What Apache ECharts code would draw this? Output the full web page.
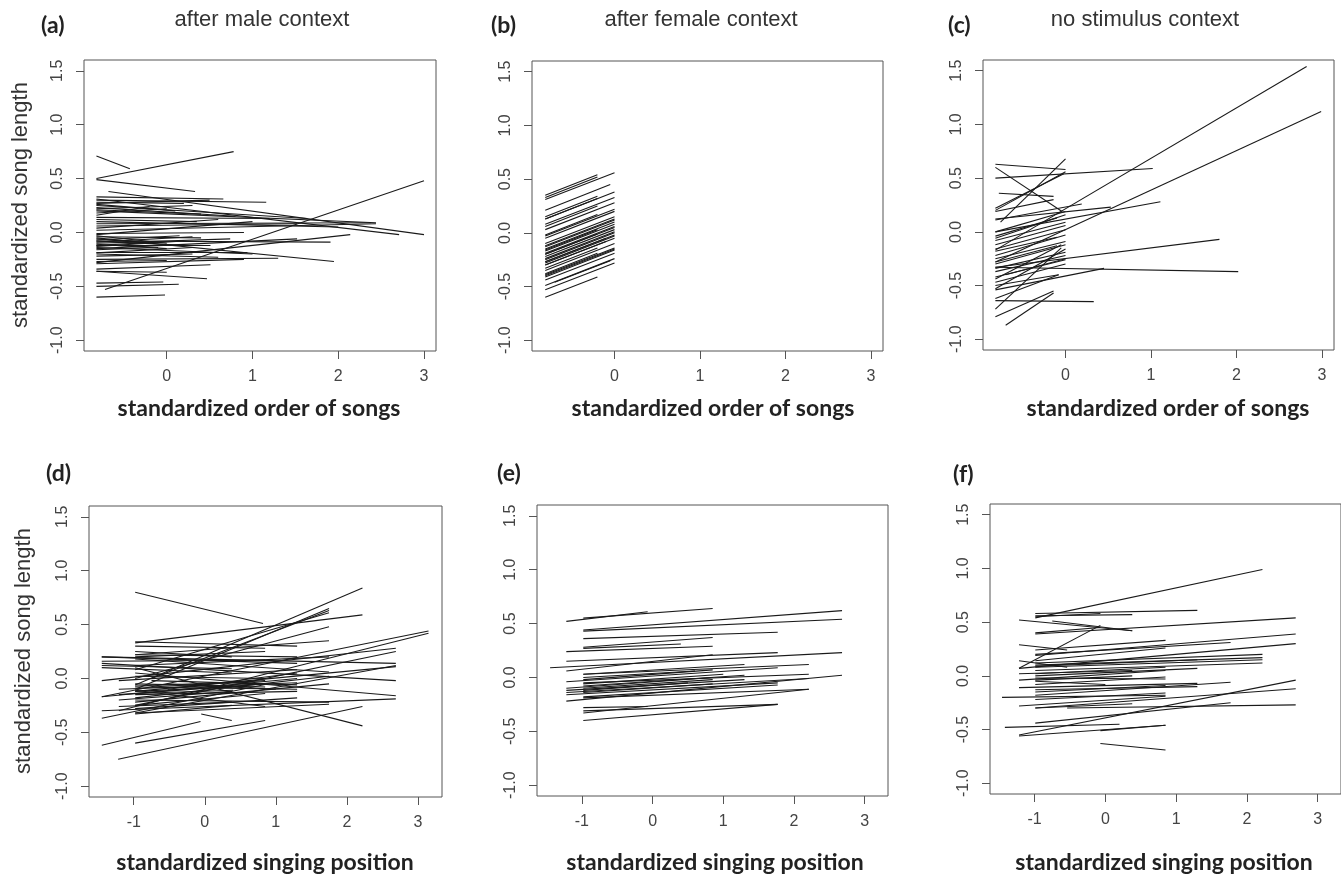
<!DOCTYPE html>
<html>
<head>
<meta charset="utf-8">
<title>song length</title>
<script src="https://cdn.jsdelivr.net/npm/echarts@6.0.0/dist/echarts.min.js"></script>
<style>
  html, body { margin: 0; padding: 0; background: #fff; }
  #chart { width: 1341px; height: 877px; }
</style>
</head>
<body>
<div id="chart"></div>
<script>
// tick values
var yTicks = [-1, -0.5, 0, 0.5, 1, 1.5];
var orderTicks = [0, 1, 2, 3];
var positionTicks = [-1, 0, 1, 2, 3];

var panelTags = ['(a)', '(b)', '(c)', '(d)', '(e)', '(f)'];
var contextNames = ['after male context', 'after female context', 'no stimulus context'];
var xTitles = ['standardized order of songs', 'standardized singing position'];
var yTitle = 'standardized song length';

// each segment: [x1, y1, x2, y2]
var segA = [
  [-0.82, 0.71, -0.43, 0.59], [-0.82, 0.50, 0.78, 0.75], [-0.82, 0.49, 0.33, 0.38],
  [-0.68, 0.38, 3.00, -0.02], [-0.72, -0.53, 3.00, 0.48], [-0.82, 0.33, 0.66, 0.31],
  [-0.82, 0.30, 1.16, 0.28], [-0.82, 0.31, 2.71, -0.02], [-0.82, 0.27, 0.50, 0.30],
  [-0.82, 0.25, 1.64, 0.13], [-0.82, 0.22, 0.30, 0.25], [-0.82, 0.20, 2.44, 0.09],
  [-0.82, 0.18, 0.00, 0.22], [-0.82, 0.16, -0.20, 0.24], [-0.82, 0.26, 0.10, 0.20],
  [-0.82, 0.23, 0.80, 0.15], [-0.82, 0.14, 1.20, 0.13], [-0.82, 0.12, 0.35, 0.10],
  [-0.82, 0.08, 2.38, 0.09], [-0.82, 0.06, 1.52, 0.08], [-0.82, 0.04, 0.60, 0.12],
  [-0.82, 0.02, 2.44, 0.08], [-0.82, 0.10, 2.00, 0.05], [-0.82, -0.01, 0.90, 0.00],
  [-0.82, -0.02, 1.00, 0.10], [-0.82, -0.04, 0.40, -0.05], [-0.82, -0.07, 0.15, -0.03],
  [-0.82, -0.28, 2.14, -0.02], [-0.82, -0.05, 1.95, -0.27], [-0.82, -0.08, 1.91, -0.09],
  [-0.82, -0.10, 0.74, -0.06], [-0.82, -0.12, 0.51, -0.12], [-0.82, -0.09, 0.30, -0.04],
  [-0.82, -0.14, 1.00, -0.20], [-0.82, -0.11, 0.00, -0.15], [-0.82, -0.06, -0.20, -0.10],
  [-0.82, -0.13, 0.20, -0.08], [-0.82, -0.16, -0.10, -0.14], [-0.82, -0.15, 1.52, -0.06],
  [-0.82, -0.18, 0.94, -0.18], [-0.82, -0.20, 0.60, -0.23], [-0.82, -0.22, 0.30, -0.20],
  [-0.82, -0.25, 1.30, -0.24], [-0.82, -0.27, 0.00, -0.26], [-0.82, -0.29, 0.90, -0.25],
  [-0.82, -0.34, 0.51, -0.30], [-0.82, -0.36, 0.00, -0.37], [-0.82, -0.36, 0.47, -0.43],
  [-0.82, -0.47, -0.04, -0.46], [-0.82, -0.50, 0.14, -0.48], [-0.82, -0.60, -0.02, -0.58],
  [-0.82, -0.08, 0.20, -0.12], [-0.82, -0.12, -0.10, -0.09], [-0.82, -0.03, 0.00, -0.10],
  [-0.82, 0.28, 0.20, 0.27], [-0.82, 0.21, 0.40, 0.17], [-0.82, -0.19, 0.30, -0.14]
];

var segB = [
  [-0.81, 0.31, 0, 0.56], [-0.81, 0.13, 0, 0.38], [-0.81, 0.08, 0, 0.33],
  [-0.81, 0.03, 0, 0.28], [-0.81, -0.03, 0, 0.22], [-0.81, -0.05, 0, 0.20],
  [-0.81, -0.10, 0, 0.15], [-0.81, -0.12, 0, 0.13], [-0.81, -0.13, 0, 0.12],
  [-0.81, -0.15, 0, 0.10], [-0.81, -0.17, 0, 0.08], [-0.81, -0.19, 0, 0.06],
  [-0.81, -0.20, 0, 0.05], [-0.81, -0.22, 0, 0.03], [-0.81, -0.24, 0, 0.01],
  [-0.81, -0.25, 0, 0.00], [-0.81, -0.27, 0, -0.02], [-0.81, -0.28, 0, -0.03],
  [-0.81, -0.30, 0, -0.05], [-0.81, -0.35, 0, -0.10], [-0.81, -0.39, 0, -0.14],
  [-0.81, -0.40, 0, -0.15], [-0.81, -0.41, 0, -0.16], [-0.81, -0.44, 0, -0.19],
  [-0.81, -0.49, 0, -0.24], [-0.81, -0.53, 0, -0.28],
  [-0.81, 0.33, -0.20, 0.52], [-0.81, 0.35, -0.20, 0.54], [-0.81, 0.21, -0.05, 0.45],
  [-0.81, 0.15, -0.20, 0.34], [-0.81, 0.13, -0.20, 0.32], [-0.81, 0.06, -0.20, 0.25],
  [-0.81, -0.02, -0.20, 0.17], [-0.81, -0.16, -0.20, 0.03], [-0.81, -0.20, -0.20, -0.01],
  [-0.81, -0.33, -0.20, -0.14], [-0.81, -0.38, -0.20, -0.19], [-0.81, -0.60, -0.20, -0.41],
  [-0.70, -0.46, -0.05, -0.26], [-0.81, -0.27, -0.10, -0.05], [-0.81, -0.30, -0.10, -0.08]
];

var segC = [
  [-0.82, -0.17, 2.82, 1.54], [-0.82, -0.28, 2.99, 1.12], [-0.82, 0.63, 0.00, 0.58],
  [-0.82, 0.60, -0.04, 0.19], [-0.82, 0.50, 1.02, 0.59], [-0.76, 0.09, 0.00, 0.68],
  [-0.82, 0.20, 0.00, 0.56], [-0.82, 0.22, -0.02, 0.54], [-0.78, 0.36, -0.14, 0.33],
  [-0.82, 0.19, -0.14, 0.30], [-0.82, 0.12, 0.53, 0.23], [-0.82, 0.00, 1.11, 0.28],
  [-0.82, 0.11, 0.19, 0.26], [-0.82, -0.33, 1.80, -0.07], [-0.82, -0.33, 2.02, -0.37],
  [-0.82, -0.54, 0.45, -0.34], [-0.82, -0.64, 0.33, -0.65], [-0.82, -0.72, -0.05, -0.15],
  [-0.82, -0.79, -0.14, -0.55], [-0.70, -0.87, -0.14, -0.57], [-0.82, -0.62, -0.08, -0.40],
  [-0.82, 0.00, 0.00, 0.19], [-0.82, -0.06, 0.00, 0.16], [-0.82, -0.08, 0.00, 0.09],
  [-0.82, -0.12, 0.00, 0.06], [-0.82, -0.16, 0.00, 0.02], [-0.82, -0.22, 0.00, -0.03],
  [-0.82, -0.25, 0.00, -0.09], [-0.82, -0.30, 0.00, -0.12], [-0.82, -0.34, 0.00, -0.19],
  [-0.82, -0.37, 0.00, -0.22], [-0.82, -0.42, 0.00, -0.26], [-0.82, -0.47, 0.00, -0.30],
  [-0.82, -0.50, -0.08, -0.40], [-0.82, -0.53, 0.00, -0.16], [-0.82, -0.04, -0.10, 0.13],
  [-0.82, -0.18, -0.10, -0.05], [-0.82, -0.28, -0.10, -0.13], [-0.82, -0.44, -0.05, -0.12],
  [-0.70, -0.40, 0.00, -0.25]
];

var segD = [
  [-0.98, 0.80, 0.82, 0.51], [-0.98, 0.33, 2.22, 0.59], [-0.98, 0.34, 1.30, 0.30],
  [-0.98, -0.06, 2.22, 0.84], [-0.98, -0.10, 1.75, 0.65], [-0.75, 0.00, 1.75, 0.63],
  [-0.98, 0.08, 1.75, 0.61], [-0.98, 0.00, 1.75, 0.48], [-1.45, -0.17, 3.15, 0.44],
  [-1.21, -0.30, 3.15, 0.42], [-0.98, 0.22, 1.75, 0.35], [-1.45, -0.02, 2.69, 0.28],
  [-0.98, -0.25, 2.69, 0.25], [-1.45, 0.20, 2.69, 0.14], [-0.98, -0.12, 2.69, 0.11],
  [-0.98, -0.32, 2.69, 0.12], [-1.45, 0.14, 2.69, -0.02], [-0.98, 0.05, 2.69, -0.16],
  [-1.45, -0.30, 2.69, -0.19], [-0.98, 0.10, 2.22, -0.44], [-0.98, -0.20, 1.75, -0.22],
  [-0.98, -0.32, 1.75, -0.24], [-1.22, -0.75, 2.22, -0.26], [-1.45, -0.62, -0.06, -0.40],
  [-0.98, -0.60, 0.85, -0.39], [-1.45, -0.37, 0.90, -0.05], [-0.05, -0.33, 0.38, -0.39],
  [-0.98, -0.11, 0.85, -0.26], [-1.45, -0.17, 1.30, 0.00], [-1.45, 0.20, 1.30, 0.14],
  [-1.45, 0.16, 0.85, 0.17], [-1.45, 0.12, 0.38, 0.09], [-1.21, -0.02, 1.30, 0.08],
  [-0.98, 0.22, 1.30, 0.20], [-0.98, 0.20, 0.85, 0.25], [-0.98, 0.25, 0.38, 0.20],
  [-0.98, 0.18, 1.75, 0.06], [-1.21, -0.10, 1.30, -0.04], [-0.98, -0.05, 0.85, -0.08],
  [-0.98, -0.08, 1.30, -0.10], [-1.21, -0.15, 0.85, -0.05], [-0.98, -0.12, 0.38, -0.08],
  [-0.75, -0.02, 1.30, -0.06], [-0.98, 0.02, 0.85, 0.00], [-0.98, -0.18, 1.75, 0.02],
  [-1.21, -0.20, 0.38, -0.12], [-0.98, -0.25, 0.85, -0.14], [-0.98, -0.28, 1.30, -0.18],
  [-1.21, -0.26, 0.38, -0.22], [-0.98, -0.33, 0.38, -0.25], [-0.98, -0.22, 1.75, -0.05],
  [-0.98, 0.30, 0.85, 0.28], [-0.98, 0.12, 1.75, 0.20], [-1.45, 0.10, 0.38, 0.05],
  [-0.75, -0.08, 0.85, -0.02], [-0.98, -0.15, 1.30, -0.12], [-0.52, -0.10, 1.30, 0.05],
  [-0.98, -0.07, 0.60, -0.03], [-0.52, -0.05, 1.00, -0.10], [-0.98, -0.14, 0.40, -0.11]
];

var segE = [
  [-1.22, 0.52, -0.07, 0.61], [-0.98, 0.55, 0.85, 0.64], [-0.98, 0.44, 2.68, 0.62],
  [-0.98, 0.43, 2.68, 0.54], [-0.98, 0.36, 1.77, 0.42], [-0.98, 0.28, 0.85, 0.37],
  [-0.98, 0.27, 0.40, 0.31], [-1.22, 0.24, 0.85, 0.29], [-1.22, 0.15, 1.77, 0.23],
  [-1.45, 0.09, 2.68, 0.23], [-1.22, 0.06, 0.85, 0.21], [-0.98, 0.03, 1.30, 0.12],
  [-1.22, -0.04, 1.77, 0.09], [-0.98, 0.03, 2.21, 0.12], [-0.98, -0.02, 0.85, 0.07],
  [-0.98, -0.05, 2.21, 0.03], [-1.22, -0.10, 0.85, 0.00], [-1.22, -0.12, 1.30, -0.02],
  [-1.22, -0.14, 2.21, -0.01], [-1.22, -0.16, 1.77, -0.05], [-0.98, -0.08, 1.30, 0.02],
  [-0.98, -0.10, 0.85, -0.02], [-0.98, -0.12, 0.50, -0.05], [-0.98, -0.18, 1.77, -0.07],
  [-0.98, -0.19, 2.21, -0.11], [-1.22, -0.22, 2.68, 0.02], [-0.98, -0.28, -0.07, -0.27],
  [-0.98, -0.31, 1.77, -0.25], [-0.98, -0.40, 1.77, -0.25], [-0.98, -0.33, 2.21, -0.11],
  [-0.98, -0.06, 1.00, 0.03], [-0.98, -0.14, 0.85, -0.06], [-0.98, 0.00, 0.60, 0.06]
];

var segF = [
  [-0.99, 0.54, 2.22, 0.99], [-0.99, 0.58, 1.30, 0.61], [-0.99, 0.56, 0.38, 0.57],
  [-0.99, 0.55, -0.07, 0.58], [-1.22, 0.52, 0.38, 0.42], [-0.75, 0.51, 0.38, 0.42],
  [-0.99, 0.39, 2.69, 0.54], [-1.22, 0.07, -0.07, 0.47], [-0.99, 0.40, -0.07, 0.45],
  [-1.22, 0.29, -0.54, 0.24], [-0.99, 0.24, 0.85, 0.33], [-0.99, 0.20, 1.77, 0.31],
  [-0.99, 0.19, 2.69, 0.39], [-1.22, 0.07, 2.69, 0.30], [-0.99, 0.14, 0.85, 0.26],
  [-0.99, 0.12, 2.22, 0.20], [-0.99, 0.10, 2.22, 0.17], [-0.99, 0.08, 2.22, 0.15],
  [-0.99, 0.09, 1.30, 0.15], [-1.22, 0.14, -0.54, 0.08], [-0.99, 0.05, 2.22, 0.12],
  [-0.99, 0.02, 0.85, 0.08], [-0.99, 0.00, 1.30, 0.07], [-1.22, 0.02, 0.38, 0.05],
  [-1.22, -0.04, 0.85, 0.05], [-0.99, -0.02, 0.85, -0.03], [-0.99, -0.04, 0.38, 0.00],
  [-0.99, -0.05, 0.00, -0.08], [-1.22, -0.11, 1.30, -0.07], [-0.99, -0.15, 0.85, -0.09],
  [-0.99, -0.13, 1.30, -0.10], [-0.99, -0.18, 1.77, -0.06], [-1.46, -0.20, 0.85, -0.18],
  [-0.99, -0.30, 2.69, -0.12], [-1.22, -0.55, 2.69, -0.04], [-1.22, -0.28, 0.85, -0.19],
  [-0.99, -0.30, 0.38, -0.26], [-0.54, -0.30, 2.69, -0.27], [-0.99, -0.44, 1.77, -0.25],
  [-1.42, -0.48, 0.20, -0.45], [-1.22, -0.56, 0.85, -0.46], [-0.07, -0.51, 0.85, -0.46],
  [-0.07, -0.63, 0.85, -0.69], [-0.99, -0.22, 0.85, -0.16], [-0.99, -0.08, 0.85, -0.01]
];

// panel layout (pixels) and axis spans
var panels = [
  { left: 84, top: 60, width: 352, height: 291, xmin: -0.965, xmax: 3.14, ticks: orderTicks, seg: segA },
  { left: 532, top: 61, width: 351, height: 290, xmin: -0.965, xmax: 3.14, ticks: orderTicks, seg: segB },
  { left: 983, top: 60, width: 351, height: 290, xmin: -0.965, xmax: 3.14, ticks: orderTicks, seg: segC },
  { left: 89, top: 506, width: 353, height: 291, xmin: -1.63, xmax: 3.34, ticks: positionTicks, seg: segD },
  { left: 537, top: 505, width: 351, height: 291, xmin: -1.635, xmax: 3.33, ticks: positionTicks, seg: segE },
  { left: 990, top: 504, width: 352, height: 290, xmin: -1.63, xmax: 3.33, ticks: positionTicks, seg: segF }
];

var tickFont = 'Liberation Sans';
var grids = [], xAxes = [], yAxes = [], series = [];

panels.forEach(function (p, i) {
  grids.push({
    left: p.left, top: p.top, width: p.width, height: p.height,
    show: true, borderColor: '#555', borderWidth: 1, backgroundColor: 'transparent'
  });
  xAxes.push({
    gridIndex: i, type: 'value', min: p.xmin, max: p.xmax, position: 'bottom',
    axisLine: { show: false, onZero: false },
    splitLine: { show: false },
    axisTick: { show: true, length: 8, lineStyle: { color: '#555' }, customValues: p.ticks },
    axisLabel: {
      customValues: p.ticks, color: '#444', fontSize: 16, fontFamily: tickFont, margin: 18,
      formatter: function (v) { return String(Math.round(v)); }
    }
  });
  yAxes.push({
    gridIndex: i, type: 'value', min: -1.1, max: 1.6, position: 'left',
    axisLine: { show: false, onZero: false },
    splitLine: { show: false },
    axisTick: { show: true, length: 8, lineStyle: { color: '#555' }, customValues: yTicks },
    axisLabel: {
      customValues: yTicks, color: '#444', fontSize: 16, fontFamily: tickFont, margin: 18, rotate: 90,
      formatter: function (v) { return v.toFixed(1); }
    }
  });
  series.push({
    type: 'lines',
    coordinateSystem: 'cartesian2d',
    xAxisIndex: i, yAxisIndex: i,
    silent: true,
    lineStyle: { color: '#1a1a1a', width: 1.1, opacity: 1 },
    data: p.seg.map(function (s) { return { coords: [[s[0], s[1]], [s[2], s[3]]] }; })
  });
});

// texts
function txt(text, x, y, font, align, extra) {
  var el = {
    type: 'text', x: x, y: y, silent: true,
    style: { text: text, font: font, fill: extra && extra.fill || '#222', align: align || 'center', verticalAlign: 'middle' }
  };
  if (extra && extra.rotation) el.rotation = extra.rotation;
  return el;
}
var titleFont = '22px "Liberation Sans"';
var tagFont = 'bold 23px Lato';
var axisTitleFont = 'bold 23px Lato';

var texts = [
  txt(contextNames[0], 262, 20, titleFont, 'center', { fill: '#333' }),
  txt(contextNames[1], 701, 20, titleFont, 'center', { fill: '#333' }),
  txt(contextNames[2], 1145, 20, titleFont, 'center', { fill: '#333' }),
  txt(panelTags[0], 41, 26, tagFont, 'left'),
  txt(panelTags[1], 491, 26, tagFont, 'left'),
  txt(panelTags[2], 948, 26, tagFont, 'left'),
  txt(panelTags[3], 46, 474, tagFont, 'left'),
  txt(panelTags[4], 497, 474, tagFont, 'left'),
  txt(panelTags[5], 953, 475, tagFont, 'left'),
  txt(xTitles[0], 259, 409, axisTitleFont, 'center'),
  txt(xTitles[0], 713, 409, axisTitleFont, 'center'),
  txt(xTitles[0], 1168, 409, axisTitleFont, 'center'),
  txt(xTitles[1], 265, 863, axisTitleFont, 'center'),
  txt(xTitles[1], 715, 863, axisTitleFont, 'center'),
  txt(xTitles[1], 1164, 863, axisTitleFont, 'center'),
  txt(yTitle, 21, 205, titleFont, 'center', { fill: '#333', rotation: Math.PI / 2 }),
  txt(yTitle, 24, 651, titleFont, 'center', { fill: '#333', rotation: Math.PI / 2 })
];

var chart = echarts.init(document.getElementById('chart'), null, { renderer: 'canvas' });
chart.setOption({
  backgroundColor: '#fff',
  animation: false,
  grid: grids,
  xAxis: xAxes,
  yAxis: yAxes,
  series: series,
  graphic: texts
});
</script>
</body>
</html>
